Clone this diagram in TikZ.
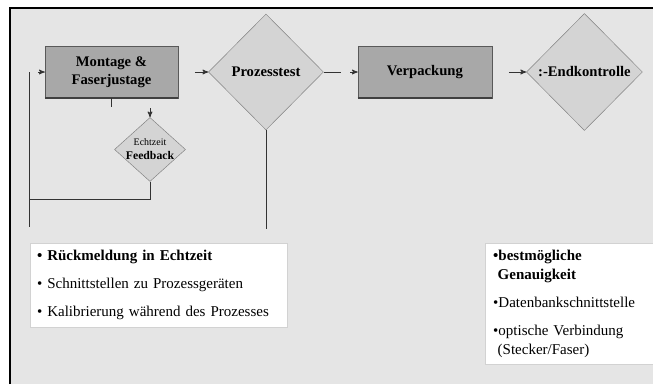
\documentclass[tikz,border=0pt]{standalone}
\usepackage{fontspec}
\setmainfont{Liberation Serif}
\usetikzlibrary{arrows,positioning,shapes.geometric}
\definecolor{panelgray}{HTML}{E5E5E5}
\definecolor{boxgray}{HTML}{A8A8A8}
\definecolor{diagray}{HTML}{D4D4D4}
\tikzset{
    %Define standard arrow tip
    >=stealth',
    %Define style for process boxes
    schritt/.style={
           rectangle,
           draw=gray!70!black,
           fill=boxgray,
           minimum width=3.99cm,
           minimum height=1.56cm,
           font=\fontsize{12.5}{15}\selectfont\bfseries,
           align=center},
    %Define style for test diamonds
    pruef/.style={
           diamond,
           draw=gray,
           fill=diagray,
           inner sep=0pt,
           font=\fontsize{12.5}{15}\selectfont\bfseries},
    %Define style for the lists
    liste/.style={
           rectangle,
           draw=gray!35,
           fill=white,
           anchor=north west,
           align=left,
           inner ysep=0.17cm,
           font=\fontsize{12.8}{16}\selectfont},
    % Define line and arrow styles
    linie/.style={
           line width=0.8pt,
           draw=black!80},
    pil/.style={
           ->,
           line width=0.8pt,
           draw=black!80},
    schatten/.style={
           line width=1.3pt,
           draw=black!75}
}
\begin{document}
\begin{tikzpicture}[x=0.03cm, y=-0.03cm, node distance=1cm]
    \useasboundingbox (0,0) rectangle (653,384);
    % background panel
    \fill[panelgray] (10,8) rectangle (653,384);
    \draw[line width=1pt] (10,384) -- (10,8) -- (653,8);

    % process chain
    \node[schritt] (mont) at (111.5,72) {Montage \&\\Faserjustage};
    \node[pruef, minimum width=3.45cm, minimum height=3.48cm,
        right=0.9cm of mont] (proz) {Prozesstest};
    \node[schritt, minimum width=4.02cm, right=1.02cm of proz] (verp) {Verpackung};
    \node[pruef, minimum width=3.48cm, minimum height=3.51cm,
        right=1.02cm of verp] (endk) {:-Endkontrolle};
    \node[pruef, minimum width=2.13cm, minimum height=1.92cm,
        below=0.57cm of mont, xshift=1.155cm] (fb) {};
    \node[align=center, inner sep=0pt] (fbtext) at (fb)
        {{\fontsize{8.5}{9.5}\selectfont Echtzeit}\\
         {\fontsize{10}{11}\selectfont\bfseries Feedback}};
    \draw[schatten] (mont.south west) -- (mont.south east);
    \draw[schatten] (verp.south west) -- (verp.south east);

    % connectors
    \coordinate[left=0.21cm of mont] (ein);
    \draw[pil] (ein) -- (mont);
    \draw[pil, shorten <=0.5cm] (mont) -- (proz);
    \draw[pil, dash pattern=on 0.52cm off 0.28cm] (proz) -- (verp);
    \draw[pil, shorten <=0.5cm] (verp) -- (endk);
    \coordinate[below=0.27cm of mont] (stummel);
    \draw[linie] (mont.south) -- (stummel);
    \coordinate[above=0.27cm of fb] (fbein);
    \draw[pil] (fbein) -- (fb);
    \coordinate (knick) at (29,199);
    \draw[linie] (fb.south) |- (knick);
    \coordinate (rueck) at (29,72);
    \coordinate (rueckende) at (29,227);
    \draw[linie] (rueck) -- (rueckende);
    \coordinate[below=2.97cm of proz] (prozende);
    \draw[linie] (proz.south) -- (prozende);

    % lists
    \node[liste, minimum width=7.71cm, minimum height=2.52cm, text width=7.3cm,
        inner xsep=0.18cm] (merk1) at (30,243)
        {\textbf{\textbullet\ Rückmeldung in Echtzeit}\\[8pt]
         \textbullet\ Schnittstellen zu Prozessgeräten\\[8pt]
         \textbullet\ Kalibrierung während des Prozesses};
    \node[liste, minimum width=5.04cm, minimum height=3.63cm, text width=4.6cm,
        inner xsep=0.24cm, inner ysep=0.12cm] (merk2) at (485,243)
        {\textbf{\textbullet bestmögliche}\\
         \hspace*{0.3em}\textbf{Genauigkeit}\\[8pt]
         \textbullet Datenbankschnittstelle\\[8pt]
         \textbullet optische Verbindung\\
         \hspace*{0.3em}(Stecker/Faser)};
\end{tikzpicture}
\end{document}
